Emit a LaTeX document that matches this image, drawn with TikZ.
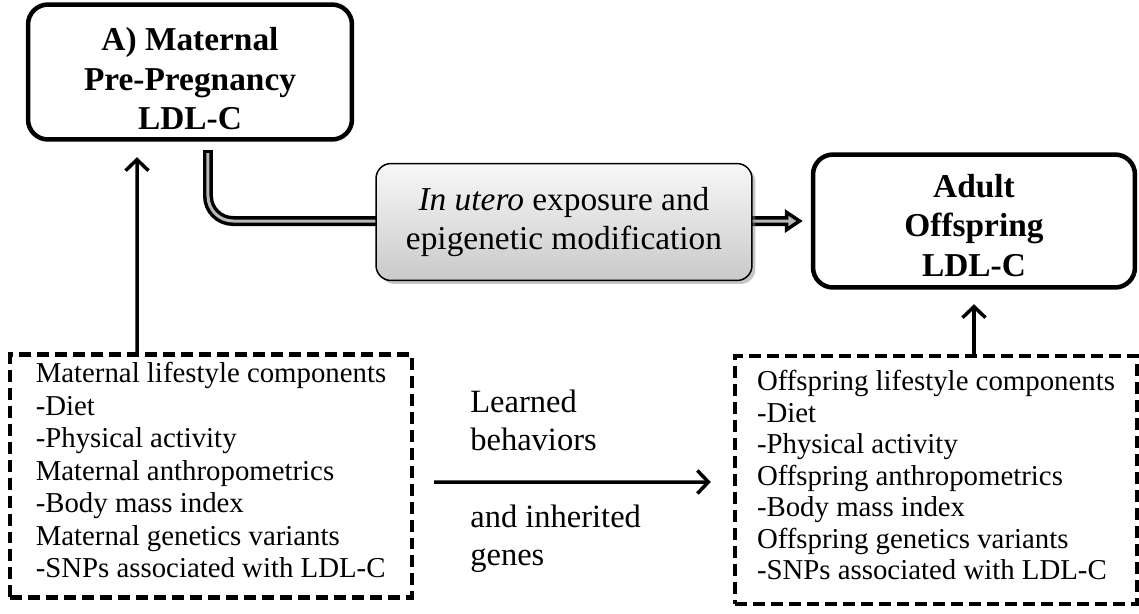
\documentclass[tikz,border=0pt]{standalone}
\usepackage{fontspec}
\setmainfont{Liberation Serif}
\usetikzlibrary{arrows.meta,shadows}

\begin{document}
\begin{tikzpicture}[x=0.02cm,y=-0.02cm,>={Straight Barb[length=0.22cm,width=0.46cm]},
    outcome/.style={draw,line width=0.09cm,rounded corners=0.4cm,align=center,
      font=\fontsize{19}{22.4}\selectfont\bfseries},
    factors/.style={draw,line width=0.09cm,dash pattern=on 0.24cm off 0.12cm,
      align=left,minimum width=8.04cm,font=\fontsize{16.4}{18.5}\selectfont},
    process/.style={draw,line width=0.03cm,rounded corners=0.3cm,align=center,
      top color=gray!6,bottom color=gray!42,
      drop shadow={opacity=0.45,shadow xshift=0.07cm,shadow yshift=-0.07cm},
      minimum width=7.52cm,minimum height=2.34cm,
      font=\fontsize{19}{22.7}\selectfont},
    note/.style={align=left,inner sep=0pt,font=\fontsize{18.5}{21.5}\selectfont},
    link/.style={->,line width=0.07cm}]
      \useasboundingbox (0,0) rectangle (1139,613);

      %% LDL-C outcomes
      \node[outcome, minimum width=6.48cm, minimum height=2.7cm]  (mat)   at (190,72)
            {\rule{0pt}{0.74cm}A) Maternal\\Pre-Pregnancy\\LDL-C};
      \node[outcome, minimum width=6.44cm, minimum height=2.66cm] (adult) at (974,221)
            {\rule{0pt}{0.64cm}Adult\\Offspring\\LDL-C};

      %% in utero route
      \draw[line width=0.2cm, rounded corners=0.5cm, shorten >=0.16cm,
            -{Triangle[length=0.36cm,width=0.46cm,line width=0.07cm 0,fill=gray!55]}]
            ([xshift=0.36cm,yshift=-0.17cm]mat.south) |- (adult.west);
      \draw[gray!55, line width=0.06cm, rounded corners=0.5cm, shorten >=0.4cm]
            ([xshift=0.36cm,yshift=-0.23cm]mat.south) |- (adult.west);
      \node[process] (utero) at (564,222)
            {\textit{In utero} exposure and\\epigenetic modification};

      %% lifestyle, anthropometrics, genetics
      \node[factors, minimum height=4.86cm] (matlife) at (211,476)
            {Maternal lifestyle components\\-Diet\\-Physical activity\\
             Maternal anthropometrics\\-Body mass index\\
             Maternal genetics variants\\-SNPs associated with LDL-C\rule[-0.24cm]{0pt}{0pt}};
      \node[factors, minimum height=4.96cm, font=\fontsize{16.4}{17.9}\selectfont] (offlife) at (936,480)
            {Offspring lifestyle components\\-Diet\\-Physical activity\\
             Offspring anthropometrics\\-Body mass index\\
             Offspring genetics variants\\-SNPs associated with LDL-C\rule[-0.2cm]{0pt}{0pt}};

      \draw[link] ([xshift=-1.48cm]matlife.north) -- ([xshift=-1.06cm,yshift=-0.31cm]mat.south);
      \draw[link] (offlife.north -| adult.south) -- ([yshift=-0.29cm]adult.south);

      %% transmission between generations
      \draw[link] ([xshift=0.4cm,yshift=-0.12cm]matlife.east)
               -- ([xshift=-0.44cm,yshift=-0.04cm]offlife.west);
      \node[note, anchor=north west] (learned)   at (470,390) {Learned\\behaviors};
      \node[note, anchor=north west] (inherited) at (470,505) {and inherited\\genes};
\end{tikzpicture}
\end{document}
